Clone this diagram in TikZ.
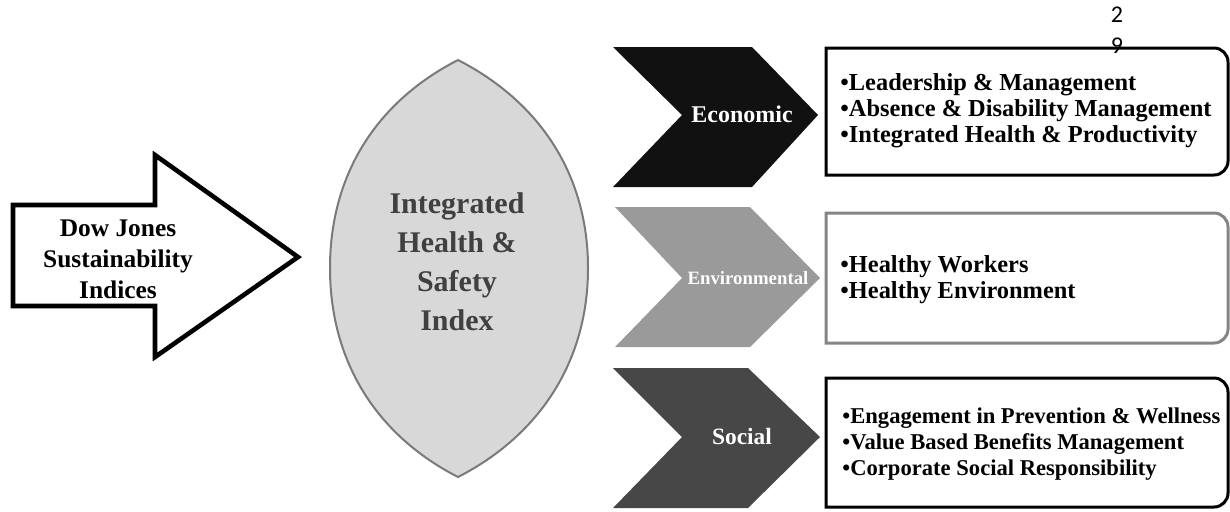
\documentclass[tikz,border=0pt]{standalone}
\usepackage{fontspec}
\setmainfont{Liberation Serif}
\newfontfamily\pagefont{Carlito}
\definecolor{econ}{HTML}{111111}
\definecolor{envi}{HTML}{9A9A9A}
\definecolor{soci}{HTML}{474747}
\definecolor{lensfill}{HTML}{D8D8D8}
\definecolor{lensline}{HTML}{7A7A7A}
\definecolor{lenstext}{HTML}{404040}
\definecolor{envline}{HTML}{858585}
\begin{document}
\begin{tikzpicture}[x=0.5pt,y=-0.5pt,
  label/.style={font=\bfseries, inner sep=0pt, align=center},
  tag/.style={label, text=white},
  bullets/.style={font=\bfseries\fontsize{12}{13}\selectfont, inner sep=0pt, align=left, anchor=west},
  listbox/.style={line width=1.5pt, rounded corners=0pt}]
\useasboundingbox (0,0) rectangle (1230,511);
\clip (0,0) rectangle (1230,511);
\fill[white] (0,0) rectangle (1230,511);

% block arrow on the left
\draw[line width=2.3pt, line join=miter, fill=white]
  (13,205) -- (155,205) -- (155,155) -- (298,257) -- (155,357) -- (155,306) -- (13,306) -- cycle;
\node[label, font=\bfseries\fontsize{12.7}{15.5}\selectfont] (djsi) at (118,259)
  {Dow Jones\\Sustainability\\Indices};

% pointed lens in the middle
\draw[line width=1pt, draw=lensline, fill=lensfill]
  (458,60) .. controls (540,102) and (588,175) .. (588,268)
           .. controls (588,361) and (540,435) .. (458,477)
           .. controls (376,435) and (330,361) .. (330,268)
           .. controls (330,175) and (376,102) .. (458,60) -- cycle;
\node[label, text=lenstext, font=\bfseries\fontsize{15}{19.5}\selectfont] (ihsi) at (457,262)
  {Integrated\\Health \&\\Safety\\Index};

% three chevrons
\fill[econ] (613,47) -- (752,47) -- (818,115) -- (752,187) -- (613,187) -- (682,115) -- cycle;
\fill[envi] (615,207) -- (750,207) -- (820,278) -- (750,347) -- (615,347) -- (682,278) -- cycle;
\fill[soci] (613,368) -- (748,368) -- (820,437) -- (748,508) -- (613,508) -- (682,437) -- cycle;
\node[tag, font=\bfseries\fontsize{12}{14}\selectfont] (econ) at (742,114) {Economic};
\node[tag, font=\bfseries\fontsize{9.4}{11}\selectfont] (envi) at (748,278) {Environmental};
\node[tag, font=\bfseries\fontsize{11.7}{14}\selectfont] (soci) at (742,436) {Social};

% list boxes, rounded on the right
\draw[listbox, draw=black]
  (826,48) [rounded corners=7pt] -- (1228,48) -- (1228,175) [sharp corners] -- (826,175) -- cycle;
\draw[listbox, draw=envline]
  (826,213) [rounded corners=7pt] -- (1228,213) -- (1228,343) [sharp corners] -- (826,343) -- cycle;
\draw[listbox, draw=black]
  (826,378) [rounded corners=7pt] -- (1228,378) -- (1228,507) [sharp corners] -- (826,507) -- cycle;

\node[bullets, font=\bfseries\fontsize{12.2}{13}\selectfont] (econlist) at (840,111)
  {•Leadership \& Management\\•Absence \& Disability Management\\•Integrated Health \& Productivity};
\node[bullets, font=\bfseries\fontsize{12.2}{13}\selectfont] (envilist) at (840,280)
  {•Healthy Workers\\•Healthy Environment};
\node[bullets, font=\bfseries\fontsize{11.3}{13}\selectfont] (socilist) at (842,444)
  {•Engagement in Prevention \& Wellness\\•Value Based Benefits Management\\•Corporate Social Responsibility};

% page number
\node[inner sep=0pt, font=\pagefont\fontsize{12}{14}\selectfont] (pg2) at (1117,15) {2};
\node[inner sep=0pt, font=\pagefont\fontsize{12}{14}\selectfont] (pg9) at (1117,46) {9};
\end{tikzpicture}
\end{document}
